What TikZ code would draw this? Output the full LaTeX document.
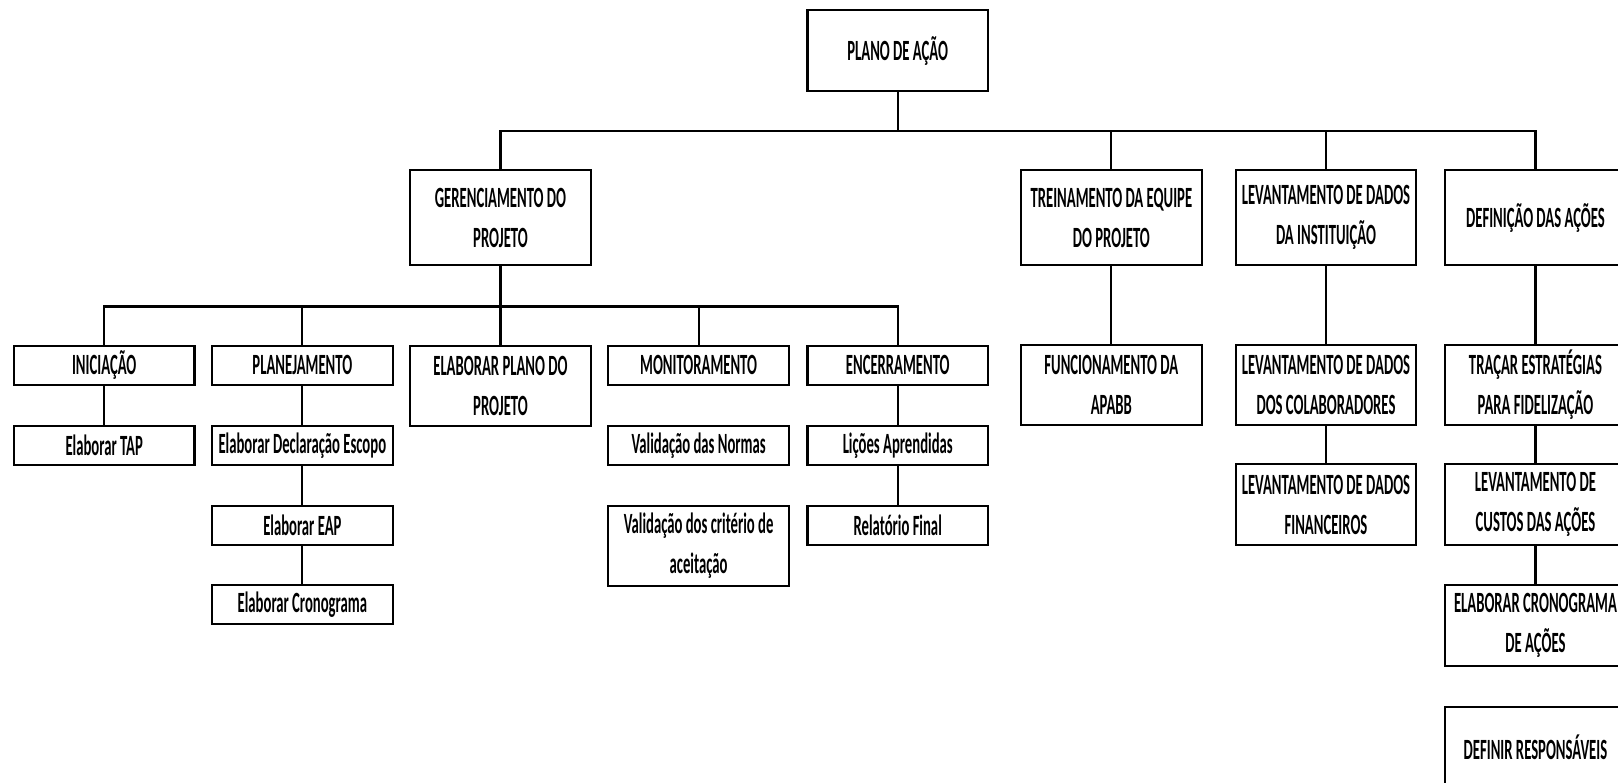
\documentclass[tikz,border=0pt]{standalone}
\usepackage{fontspec}
\setmainfont{Carlito}[FakeStretch=0.50]

\begin{document}
\begin{tikzpicture}[
        caixa/.style={draw, line width=0.6pt, minimum width=1.75cm, inner sep=0pt, align=center,
                      font=\fontsize{8.1}{11}\selectfont\bfseries},
        simples/.style={caixa, minimum height=0.38cm},
        dupla/.style={caixa, minimum height=0.78cm},
        alta/.style={caixa, minimum height=0.92cm},
        liga/.style={line width=0.6pt}]
        \useasboundingbox (0,0) rectangle (15.68,-7.58);
        \clip (0,0) rectangle (15.68,-7.58);

        % raiz
        \node[dupla] (plano) at (8.70,-0.49) {PLANO DE AÇÃO};

        % primeiro nivel
        \node[alta] (gerenc) at (4.85,-2.11) {GERENCIAMENTO DO\\ PROJETO};
        \node[alta] (treino) at (10.77,-2.11) {TREINAMENTO DA EQUIPE\\ DO PROJETO};
        \node[alta] (levant) at (12.85,-2.11) {LEVANTAMENTO DE DADOS\\ DA INSTITUIÇÃO};
        \node[alta] (defin) at (14.88,-2.11) {DEFINIÇÃO DAS AÇÕES};

        % gerenciamento do projeto
        \node[simples] (inic) at (1.01,-3.54) {INICIAÇÃO};
        \node[simples] (planej) at (2.93,-3.54) {PLANEJAMENTO};
        \node[dupla] (elabplano) at (4.85,-3.74) {ELABORAR PLANO DO\\ PROJETO};
        \node[simples] (monit) at (6.77,-3.54) {MONITORAMENTO};
        \node[simples] (encerr) at (8.70,-3.54) {ENCERRAMENTO};

        \node[simples] (tap) at (1.01,-4.32) {Elaborar TAP};
        \node[simples] (escopo) at (2.93,-4.32) {Elaborar Declaração Escopo};
        \node[simples] (eap) at (2.93,-5.09) {Elaborar EAP};
        \node[simples] (crono) at (2.93,-5.86) {Elaborar Cronograma};
        \node[simples] (normas) at (6.77,-4.32) {Validação das Normas};
        \node[dupla] (criterios) at (6.77,-5.29) {Validação dos critério de\\ aceitação};
        \node[simples] (licoes) at (8.70,-4.32) {Lições Aprendidas};
        \node[simples] (relat) at (8.70,-5.09) {Relatório Final};

        % lado direito
        \node[dupla] (apabb) at (10.77,-3.73) {FUNCIONAMENTO DA\\ APABB};
        \node[dupla] (colab) at (12.85,-3.73) {LEVANTAMENTO DE DADOS\\ DOS COLABORADORES};
        \node[dupla] (financ) at (12.85,-4.89) {LEVANTAMENTO DE DADOS\\ FINANCEIROS};
        \node[dupla] (estrat) at (14.88,-3.73) {TRAÇAR ESTRATÉGIAS\\ PARA FIDELIZAÇÃO};
        \node[dupla] (custos) at (14.88,-4.89) {LEVANTAMENTO DE\\ CUSTOS DAS AÇÕES};
        \node[dupla] (cronoacoes) at (14.88,-6.06) {ELABORAR CRONOGRAMA\\ DE AÇÕES};
        \node[dupla] (respons) at (14.88,-7.24) {DEFINIR RESPONSÁVEIS};

        % ligacoes
        \foreach \filho in {gerenc,treino,levant,defin}
            \draw[liga] (plano.south) -- ++(0,-0.38) -| (\filho.north);
        \foreach \filho in {inic,planej,elabplano,monit,encerr}
            \draw[liga] (gerenc.south) -- ++(0,-0.39) -| (\filho.north);

        \draw[liga] (inic) -- (tap);
        \draw[liga] (planej) -- (escopo);
        \draw[liga] (escopo) -- (eap);
        \draw[liga] (eap) -- (crono);
        \draw[liga] (encerr) -- (licoes);
        \draw[liga] (licoes) -- (relat);
        \draw[liga] (treino) -- (apabb);
        \draw[liga] (levant) -- (colab);
        \draw[liga] (colab) -- (financ);
        \draw[liga] (defin) -- (estrat);
        \draw[liga] (estrat) -- (custos);
        \draw[liga] (custos) -- (cronoacoes);
\end{tikzpicture}
\end{document}
